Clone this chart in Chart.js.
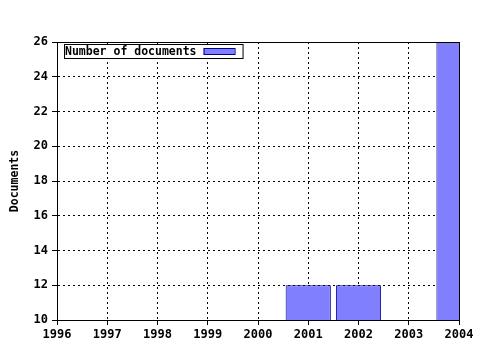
<!DOCTYPE html>
<html>
<head>
<meta charset="utf-8">
<script src="https://cdn.jsdelivr.net/npm/chart.js@4"></script>
<style>
  body { margin: 0; background: #fff; }
  #wrap { width: 480px; height: 350px; }
</style>
</head>
<body>
<div id="wrap"><canvas id="docChart" width="480" height="350"></canvas></div>
<script>
const years = ["1996", "1997", "1998", "1999", "2000", "2001", "2002", "2003", "2004"];
const docCounts = [null, null, null, null, null, 12, 12, null, 26];
const seriesLabel = "Number of documents";
const yTitle = "Documents";

const FONT = "'DejaVu Sans Mono', monospace";

// frame + legend box inside the plot, like the original
const framePlugin = {
  id: "frame",
  afterDraw(chart) {
    const { ctx, chartArea: a } = chart;
    ctx.save();
    ctx.strokeStyle = "#000";
    ctx.lineWidth = 1;
    ctx.strokeRect(Math.round(a.left) + 0.5, Math.round(a.top) + 0.5,
      Math.round(a.right - a.left), Math.round(a.bottom - a.top));

    // legend
    ctx.font = "bold 11.5px " + FONT;
    const tw = ctx.measureText(seriesLabel).width;
    const x = Math.round(a.left) + 7, y = Math.round(a.top) + 2;
    const w = tw + 47, h = 14;
    ctx.fillStyle = "#fff";
    ctx.fillRect(x, y, w, h);
    ctx.strokeRect(x + 0.5, y + 0.5, w, h);
    ctx.fillStyle = "#000";
    ctx.textBaseline = "middle";
    ctx.fillText(seriesLabel, x + 1, y + h / 2 + 1);
    ctx.fillStyle = "#8080ff";
    ctx.fillRect(x + tw + 8, y + 4, 31, 7);
    ctx.strokeStyle = "#00008b";
    ctx.strokeRect(x + tw + 8.5, y + 4.5, 31, 6);
    ctx.restore();
  }
};

new Chart(document.getElementById("docChart"), {
  type: "bar",
  data: {
    labels: years,
    datasets: [
      {
        label: seriesLabel,
        data: docCounts,
        backgroundColor: "#8080ff",
        borderColor: "#00008b",
        borderWidth: 1,
        borderSkipped: false,
        barPercentage: 0.9,
        categoryPercentage: 1.0,
      },
    ],
  },
  options: {
    responsive: false,
    animation: false,
    layout: { padding: { left: 8, right: 21, top: 42, bottom: 0 } },
    scales: {
      x: {
        offset: false,
        grid: {
          offset: false,
          color: "#000",
          tickLength: 5,
          tickColor: "#000",
        },
        border: { display: true, color: "#000", dash: [2, 3] },
        ticks: {
          color: "#000",
          padding: 3,
          maxRotation: 0,
          autoSkip: false,
          font: { family: FONT, size: 12, weight: "bold" },
        },
        afterFit(scale) { scale.height = 30; },
      },
      y: {
        min: 10,
        max: 26,
        grid: { color: "#000", tickLength: 5, tickColor: "#000" },
        border: { display: true, color: "#000", dash: [2, 3] },
        ticks: {
          stepSize: 2,
          color: "#000",
          padding: 4,
          font: { family: FONT, size: 12, weight: "bold" },
        },
        title: {
          display: true,
          text: yTitle,
          color: "#000",
          padding: { top: 0, bottom: 4 },
          font: { family: FONT, size: 11.5, weight: "bold" },
        },
        afterFit(scale) { scale.width = 49; },
      },
    },
    plugins: {
      legend: { display: false },
      tooltip: { enabled: false },
    },
  },
  plugins: [framePlugin],
});
</script>
</body>
</html>
